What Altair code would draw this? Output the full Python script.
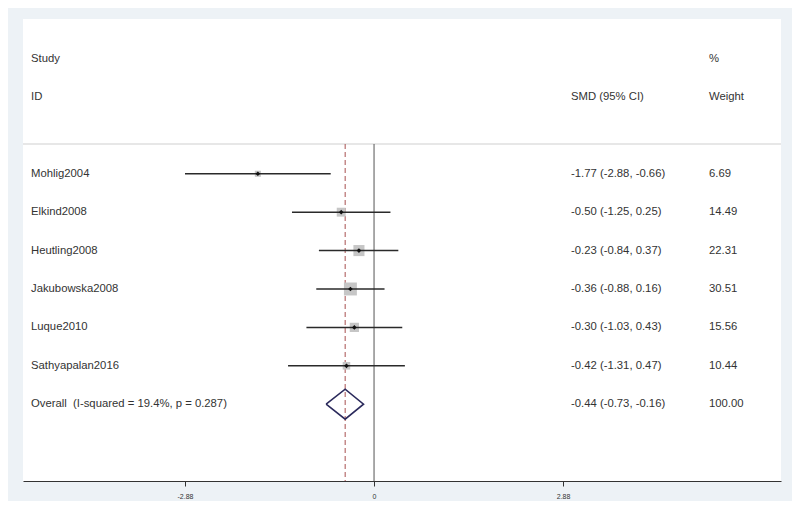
import altair as alt
import pandas as pd

# ---- data ----
studies = ["Mohlig2004", "Elkind2008", "Heutling2008", "Jakubowska2008", "Luque2010", "Sathyapalan2016"]
smd = [-1.77, -0.50, -0.23, -0.36, -0.30, -0.42]
ci_low = [-2.88, -1.25, -0.84, -0.88, -1.03, -1.31]
ci_high = [-0.66, 0.25, 0.37, 0.16, 0.43, 0.47]
weights = [6.69, 14.49, 22.31, 30.51, 15.56, 10.44]

overall_label = "Overall\u00a0 (I-squared = 19.4%, p = 0.287)"
overall_smd = -0.44
overall_low = -0.73
overall_high = -0.16
overall_weight = 100.00

tick_values = [-2.88, 0, 2.88]

FONT = "Liberation Sans"
TXT = "#333333"
W, H = 758, 462

def fmt(v):
    return f"{v:.2f}"

rows = pd.DataFrame({
    "label": studies + [overall_label],
    "row": list(range(len(studies))) + [len(studies)],
    "smd": smd + [overall_smd],
    "lo": ci_low + [overall_low],
    "hi": ci_high + [overall_high],
    "weight": weights + [overall_weight],
})
rows["ci_text"] = [f"{fmt(s)} ({fmt(l)}, {fmt(h)})" for s, l, h in zip(rows.smd, rows.lo, rows.hi)]
rows["w_text"] = [fmt(w) for w in rows.weight]
rows["box"] = rows.weight * 5.5

study_df = rows.iloc[:-1]
ov = len(studies)
half = 0.39
diamond = pd.DataFrame({
    "x": [overall_low, overall_smd, overall_high, overall_smd, overall_low],
    "row": [ov, ov - half, ov, ov + half, ov],
    "o": [0, 1, 2, 3, 4],
})

headers_left = pd.DataFrame({"t": ["Study", "ID"], "row": [-3, -2]})
headers_ci = pd.DataFrame({"t": ["SMD (95% CI)"], "row": [-2]})
headers_w = pd.DataFrame({"t": ["%", "Weight"], "row": [-3, -2]})

xscale = alt.Scale(domain=[-5.348, 6.20], nice=False, zero=False)
yscale = alt.Scale(domain=[-4.03, 8], reverse=True, nice=False, zero=False)

xaxis = alt.Axis(values=tick_values, grid=False, domainColor="#333333", domainWidth=1,
                 tickColor="#333333", tickSize=5, labelFontSize=7, labelColor=TXT,
                 labelFont=FONT, labelPadding=6, title=None,
                 labelExpr="datum.value < 0 ? '-' + format(-datum.value, '.2f') : (datum.value == 0 ? '0' : format(datum.value, '.2f'))")

X = lambda f: alt.X(f, scale=xscale, axis=xaxis, title=None)
Y = lambda f: alt.Y(f, scale=yscale, axis=None)

sep = alt.Chart(pd.DataFrame({"a": [0]})).mark_rule(color="#cfcfcf", strokeWidth=1).encode(
    x=alt.value(0), x2=alt.value(W), y=alt.value(125))

zero_line = alt.Chart(pd.DataFrame({"z": [0]})).mark_rule(color="#555555", strokeWidth=1).encode(
    x=X("z:Q"), y=alt.value(125), y2=alt.value(H))

dash_line = alt.Chart(pd.DataFrame({"z": [overall_smd]})).mark_rule(
    color="#a8504f", strokeWidth=1, strokeDash=[5, 3]).encode(
    x=X("z:Q"), y=alt.value(125), y2=alt.value(H))

boxes = alt.Chart(study_df).mark_square(color="#c6c6c6", opacity=1).encode(
    x=X("smd:Q"), y=Y("row:Q"),
    size=alt.Size("box:Q", scale=None, legend=None))

ci = alt.Chart(study_df).mark_rule(color="#2a2a2a", strokeWidth=1.5).encode(
    x=X("lo:Q"), x2="hi:Q", y=Y("row:Q"))

pts = alt.Chart(study_df).mark_point(shape="diamond", filled=True, color="#111111", size=22, opacity=1).encode(
    x=X("smd:Q"), y=Y("row:Q"))

dia = alt.Chart(diamond).mark_line(color="#2b2a5c", strokeWidth=1.6).encode(
    x=X("x:Q"), y=Y("row:Q"), order="o:Q")

def text_layer(df, field, px):
    return alt.Chart(df).mark_text(align="left", baseline="middle", font=FONT, fontSize=11.3, color=TXT).encode(
        x=alt.value(px), y=Y("row:Q"), text=f"{field}:N")

labels = text_layer(rows, "label", 8)
ci_txt = text_layer(rows, "ci_text", 548)
w_txt = text_layer(rows, "w_text", 686)
h1 = text_layer(headers_left, "t", 8)
h2 = text_layer(headers_ci, "t", 548)
h3 = text_layer(headers_w, "t", 686)

chart = alt.layer(
    sep, zero_line, dash_line, boxes, ci, pts, dia,
    labels, ci_txt, w_txt, h1, h2, h3,
).properties(
    width=W, height=H,
    autosize=alt.AutoSizeParams(type="none"),
    padding={"left": 15, "top": 11, "right": 11, "bottom": 20},
    background="#edf2f6",
).configure_view(fill="white", stroke=None)

chart.save("out.html", embed_options={"renderer": "svg", "actions": False})
